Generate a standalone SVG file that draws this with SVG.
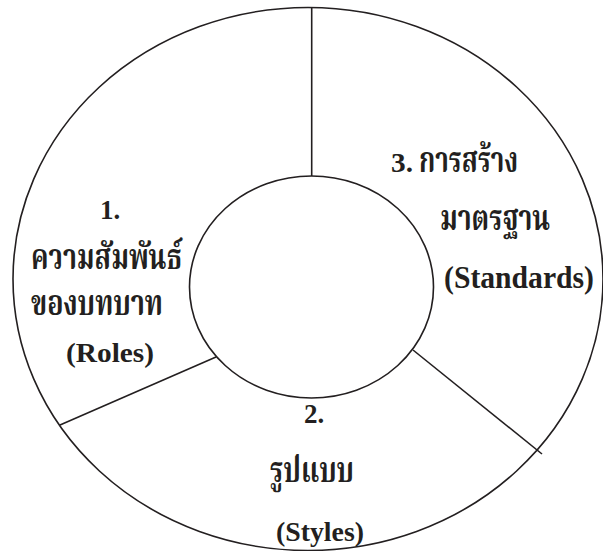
<svg xmlns="http://www.w3.org/2000/svg" width="603" height="551" viewBox="0 0 603 551">
<style>
.ln{stroke:#231f20;stroke-width:1.6;fill:none}
.t{font-family:"Liberation Serif","Noto Serif Thai","Noto Sans Thai",serif;font-weight:bold;font-size:27px;fill:#231f20}
.th{font-size:35px}
.big{font-size:32px}
</style>
<rect width="603" height="551" fill="#fff"/>
<g id="outer"><ellipse class="ln" cx="308" cy="279" rx="295" ry="271.5" fill="#fff"/></g>
<g id="connectors">
<line class="ln" x1="311.7" y1="8" x2="311.7" y2="176"/>
<line class="ln" x1="216" y1="357" x2="60" y2="425"/>
<line class="ln" x1="413" y1="350" x2="542" y2="454"/>
</g>
<g id="inner"><ellipse class="ln" cx="311.5" cy="287" rx="122" ry="111"/></g>
<g id="roles">
<text class="t" x="110" y="219" text-anchor="middle">1.</text>
<text class="t th" x="31" y="269" textLength="151" lengthAdjust="spacingAndGlyphs">ความสัมพันธ์</text>
<text class="t th" x="31" y="315" textLength="132" lengthAdjust="spacingAndGlyphs">ของบทบาท</text>
<text class="t" x="66" y="362" textLength="88" lengthAdjust="spacingAndGlyphs">(Roles)</text>
</g>
<g id="standards">
<text class="t" x="391" y="172" textLength="22" lengthAdjust="spacingAndGlyphs">3.</text>
<text class="t th" x="419" y="172" textLength="99" lengthAdjust="spacingAndGlyphs">การสร้าง</text>
<text class="t th" x="440" y="230" textLength="110" lengthAdjust="spacingAndGlyphs">มาตรฐาน</text>
<text class="t big" x="444" y="288" textLength="150" lengthAdjust="spacingAndGlyphs">(Standards)</text>
</g>
<g id="styles">
<text class="t" x="314" y="423" text-anchor="middle">2.</text>
<text class="t th" x="270" y="482" textLength="84" lengthAdjust="spacingAndGlyphs">รูปแบบ</text>
<text class="t" x="276" y="541" textLength="88" lengthAdjust="spacingAndGlyphs">(Styles)</text>
</g>
</svg>
